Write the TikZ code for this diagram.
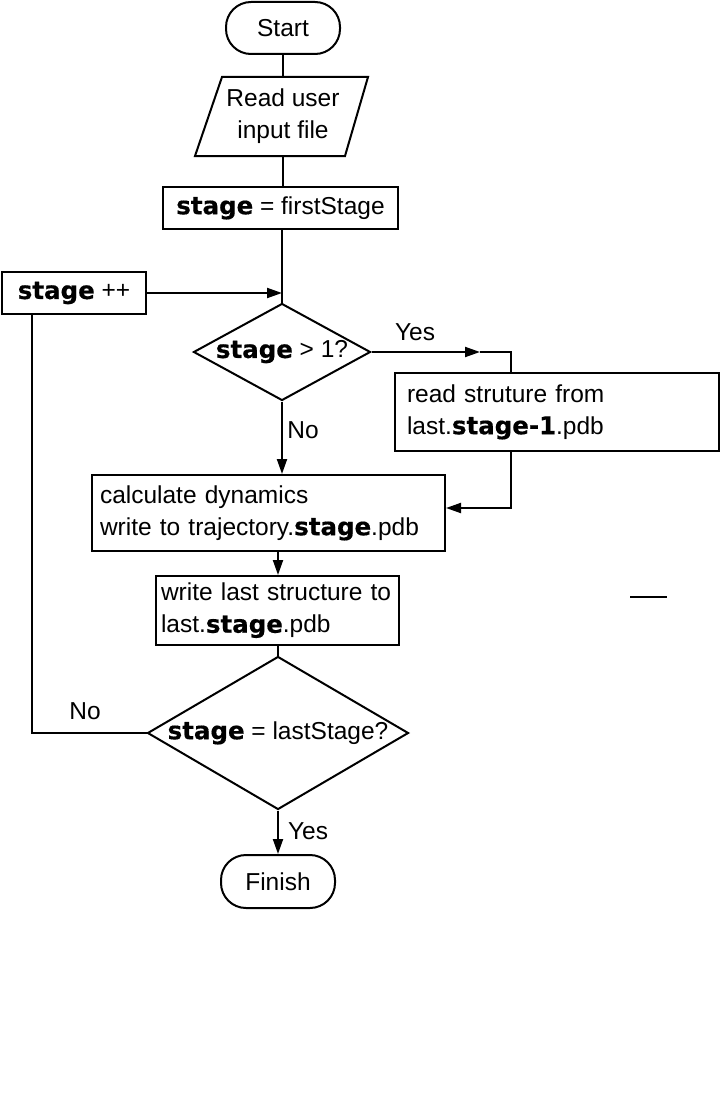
\documentclass[tikz,border=0pt]{standalone}
\usepackage{fontspec}
\setmainfont{Liberation Sans}
\newfontfamily\heavyfont{DejaVu Sans}[BoldFeatures={FakeBold=0.5}]
\usetikzlibrary{shapes.geometric,arrows.meta}
\newcommand\stg[1]{{\heavyfont\bfseries #1}}
\begin{document}
\begin{tikzpicture}[x=1pt,y=-1pt,
  every node/.style={font=\fontsize{24.5}{32}\selectfont},
  ln/.style={line width=2pt},
  arr/.style={ln,-{Triangle[length=15pt,width=10pt]}},
  box/.style={draw,ln,rectangle,inner ysep=0pt},
  term/.style={draw,ln,rectangle,rounded corners=25pt,inner sep=0pt},
  dec/.style={draw,ln,diamond,inner sep=0pt},
  lab/.style={inner sep=0pt}]
\useasboundingbox (0,0) rectangle (720,1097);

% nodes
\node[term,minimum width=114pt,minimum height=52pt] (start) at (283,28) {Start};
\node[inner sep=0pt,minimum height=79pt,align=center] (io) at (283,116.5) {Read user\\input file};
\draw[ln,line join=miter] (222,77) -- (368,77) -- (345,156) -- (195,156) -- cycle;
\node[box,inner xsep=0pt,minimum width=235pt,minimum height=42pt] (first) at (280.5,208) {\stg{stage} = firstStage};
\node[box,inner xsep=0pt,minimum width=144pt,minimum height=42pt] (inc) at (74,293) {\stg{stage} ++};
\node[dec,aspect=1.82,minimum width=177pt,minimum height=97pt] (d1) at (282,352) {\stg{stage} > 1?};
\node[box,inner xsep=12pt,text width=300pt,align=left,minimum height=78pt] (read) at (557,412) {read struture from\\last.\stg{stage-1}.pdb};
\node[box,inner xsep=8pt,text width=337pt,align=left,minimum height=76pt] (calc) at (268.5,513) {calculate dynamics\\write to trajectory.\stg{stage}.pdb};
\node[box,inner xsep=5pt,text width=233pt,align=left,minimum height=69pt] (write) at (277.5,610.5) {write last structure to\\last.\stg{stage}.pdb};
\node[dec,aspect=1.7,minimum width=261pt,minimum height=153pt] (d2) at (278,733) {\stg{stage} = lastStage?};
\node[term,minimum width=114pt,minimum height=53pt] (finish) at (278,881.5) {Finish};

% labels
\node[lab] (yes1) at (415,332) {Yes};
\node[lab] (no1) at (303,430) {No};
\node[lab] (no2) at (85,711) {No};
\node[lab] (yes2) at (308,831) {Yes};

% helper coordinates
\coordinate (join) at (282,293);
\coordinate (yesmid) at (480,352);
\coordinate (readin) at (511,373);
\coordinate (readout) at (511,451);
\coordinate (incin) at (32,314);
\coordinate (calcout) at (278,551);
\coordinate (stray1) at (630,597);
\coordinate (stray2) at (667,597);

% connectors
\draw[ln] (start.south -| io.north) -- (io.north);
\draw[ln] (io.south) -- (io.south |- first.north);
\draw[ln] (first.south -| d1.north) -- (d1.north);
\draw[arr] (inc.east) -- (join);
\draw[arr] (d1.east) -- (yesmid);
\draw[ln] (yesmid) -| (readin);
\draw[arr] (d1.south) -- (d1.south |- calc.north);
\draw[arr] (readout) |- ([yshift=5pt]calc.east);
\draw[arr] (calcout) -- (calcout |- write.north);
\draw[ln] (write.south -| d2.north) -- (d2.north);
\draw[ln] (d2.west) -| (incin);
\draw[arr] (d2.south) -- (d2.south |- finish.north);
\draw[ln] (stray1) -- (stray2);
\end{tikzpicture}
\end{document}
